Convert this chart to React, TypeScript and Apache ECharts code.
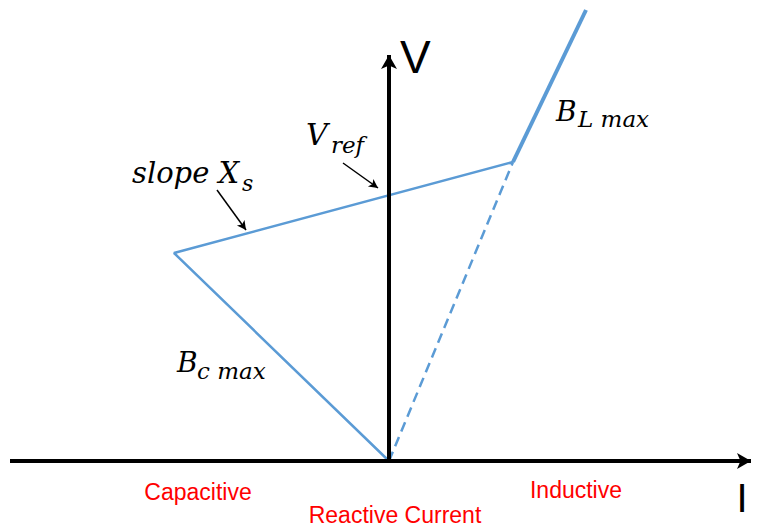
import React, { useEffect, useRef } from "react";
import * as echarts from "echarts";

// Characteristic points (I, V) in arbitrary units, origin at the axes' crossing
const origin: [number, number] = [0, 0];
const capacitiveLimit: [number, number] = [-215, 208];
const inductiveKnee: [number, number] = [124, 299];
const inductiveTop: [number, number] = [197, 451];

// Axis extents (data units)
const iRange = [-389, 370];
const vRange = [-68, 461];
const iAxisEnds = [-379, 362];
const vAxisEnd = 406;

// Annotation arrows (data units)
const slopeArrow: [number, number][] = [[-172, 271], [-143, 231]];
const vrefArrow: [number, number][] = [[-46, 298], [-11, 273]];

const BLUE = "#5B9BD5";
const MATH = "DejaVu Serif";
const SANS = "Liberation Sans";

export default function App() {
  const ref = useRef<HTMLDivElement>(null);
  useEffect(() => {
    if (!ref.current) return;
    const chart = echarts.init(ref.current, null, { renderer: "svg" });
    const mathText = (text: string, x: number, y: number, size: number) => ({
      type: "text",
      x,
      y,
      silent: true,
      style: {
        text,
        fontFamily: MATH,
        fontStyle: "italic",
        fontSize: size,
        fill: "#000",
        align: "left",
        verticalAlign: "middle",
      },
    });
    const sansText = (text: string, x: number, y: number, size: number, color: string, align = "center") => ({
      type: "text",
      x,
      y,
      silent: true,
      style: {
        text,
        fontFamily: SANS,
        fontSize: size,
        fill: color,
        align,
        verticalAlign: "middle",
      },
    });
    chart.setOption({
      animation: false,
      backgroundColor: "#fff",
      grid: { left: 0, right: 0, top: 0, bottom: 0, containLabel: false },
      xAxis: { type: "value", min: iRange[0], max: iRange[1], show: false },
      yAxis: { type: "value", min: vRange[0], max: vRange[1], show: false },
      series: [
        {
          type: "line",
          data: [origin],
          showSymbol: false,
          lineStyle: { width: 0 },
          z: 1,
          markLine: {
            silent: true,
            symbol: ["none", "arrow"],
            symbolSize: [12, 14],
            label: { show: false },
            lineStyle: { color: "#000", width: 4, type: "solid" },
            data: [
              [{ coord: [iAxisEnds[0], 0] }, { coord: [iAxisEnds[1], 0] }],
              [{ coord: [0, 0] }, { coord: [0, vAxisEnd] }],
            ],
          },
        },
        {
          type: "line",
          data: [origin, inductiveKnee],
          showSymbol: false,
          lineStyle: { color: BLUE, width: 2.5, type: [10, 6] },
          z: 2,
        },
        {
          type: "line",
          data: [origin, capacitiveLimit, inductiveKnee],
          showSymbol: false,
          lineStyle: { color: BLUE, width: 2.5 },
          z: 2,
        },
        {
          type: "line",
          data: [inductiveKnee, inductiveTop],
          showSymbol: false,
          lineStyle: { color: BLUE, width: 4 },
          z: 2,
        },
        {
          type: "line",
          data: [],
          showSymbol: false,
          z: 3,
          markLine: {
            silent: true,
            symbol: ["none", "arrow"],
            symbolSize: [7, 9],
            label: { show: false },
            lineStyle: { color: "#000", width: 1.5, type: "solid" },
            data: [
              [{ coord: slopeArrow[0] }, { coord: slopeArrow[1] }],
              [{ coord: vrefArrow[0] }, { coord: vrefArrow[1] }],
            ],
          },
        },
      ],
      graphic: [
        mathText("slope X", 132, 173, 29),
        mathText("s", 242, 183, 22),
        mathText("V", 306, 134, 30),
        mathText("ref", 331, 145, 23),
        mathText("B", 556, 111, 28),
        mathText("L max", 578, 119, 23),
        mathText("B", 177, 362, 28),
        mathText("c max", 197, 371, 23),
        sansText("Capacitive", 198, 492, 23, "#FF0000"),
        sansText("Reactive Current", 395, 515, 23, "#FF0000"),
        sansText("Inductive", 576, 490, 23, "#FF0000"),
        sansText("I", 742, 498, 40, "#000"),
        sansText("V", 400, 57, 46, "#000", "left"),
      ],
    });
    return () => chart.dispose();
  }, []);
  return (
    <div
      ref={ref}
      style={{ position: "fixed", left: 0, top: 0, width: 759, height: 529, background: "#fff" }}
    />
  );
}
